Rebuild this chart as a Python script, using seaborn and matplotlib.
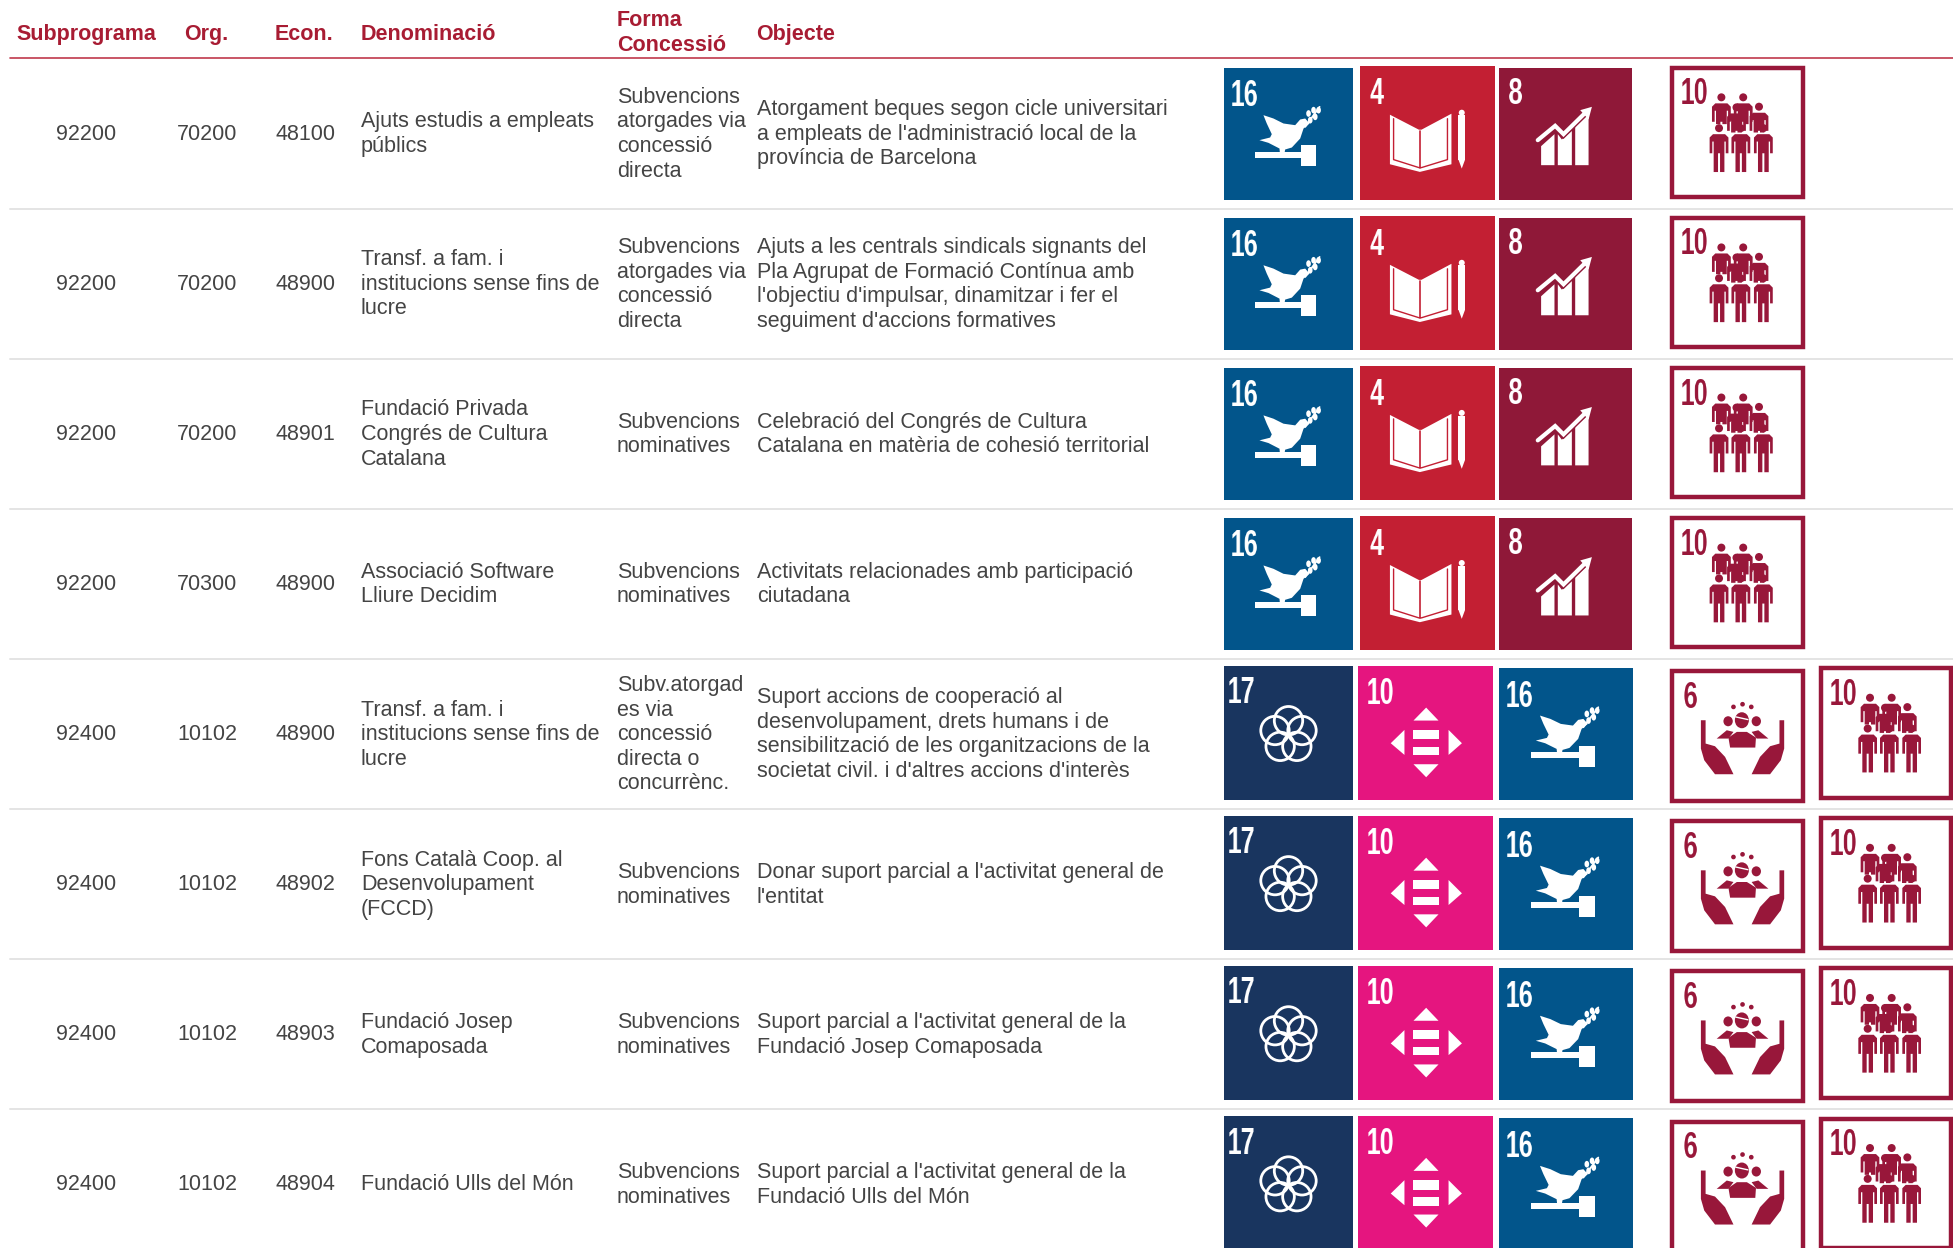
import matplotlib
matplotlib.use("Agg")
import matplotlib.pyplot as plt
import numpy as np
import seaborn as sns
from matplotlib.patches import Circle, Ellipse, Polygon, Rectangle

subprograma = ["92200", "92200", "92200", "92200", "92400", "92400", "92400", "92400"]
org = ["70200", "70200", "70200", "70300", "10102", "10102", "10102", "10102"]
econ = ["48100", "48900", "48901", "48900", "48900", "48902", "48903", "48904"]
denominacio = [
    ["Ajuts estudis a empleats", "públics"],
    ["Transf. a fam. i", "institucions sense fins de", "lucre"],
    ["Fundació Privada", "Congrés de Cultura", "Catalana"],
    ["Associació Software", "Lliure Decidim"],
    ["Transf. a fam. i", "institucions sense fins de", "lucre"],
    ["Fons Català Coop. al", "Desenvolupament", "(FCCD)"],
    ["Fundació Josep", "Comaposada"],
    ["Fundació Ulls del Món"],
]
forma = [
    ["Subvencions", "atorgades via", "concessió", "directa"],
    ["Subvencions", "atorgades via", "concessió", "directa"],
    ["Subvencions", "nominatives"],
    ["Subvencions", "nominatives"],
    ["Subv.atorgad", "es via", "concessió", "directa o", "concurrènc."],
    ["Subvencions", "nominatives"],
    ["Subvencions", "nominatives"],
    ["Subvencions", "nominatives"],
]
objecte = [
    ["Atorgament beques segon cicle universitari", "a empleats de l'administració local de la", "província de Barcelona"],
    ["Ajuts a les centrals sindicals signants del", "Pla Agrupat de Formació Contínua amb", "l'objectiu d'impulsar, dinamitzar i fer el", "seguiment d'accions formatives"],
    ["Celebració del Congrés de Cultura", "Catalana en matèria de cohesió territorial"],
    ["Activitats relacionades amb participació", "ciutadana"],
    ["Suport accions de cooperació al", "desenvolupament, drets humans i de", "sensibilització de les organitzacions de la", "societat civil. i d'altres accions d'interès"],
    ["Donar suport parcial a l'activitat general de", "l'entitat"],
    ["Suport parcial a l'activitat general de la", "Fundació Josep Comaposada"],
    ["Suport parcial a l'activitat general de la", "Fundació Ulls del Món"],
]
icons_a = ["16", "4", "8", "t10"]
icons_b = ["17", "10", "16", "t6", "t10"]
row_icons = [icons_a] * 4 + [icons_b] * 4

# layout, in pixels of the 1953x1248 picture
ROW_TOP = 58.5
ROW_H = 150.1
LINE_H = 24.6
FS = 15.5
TEXT = "#444444"
RED = "#a81c33"
slots_a = [(1224, 1353, 9, 141), (1360, 1495, 7, 141), (1499, 1632, 9, 141), (1670, 1805, 7, 141)]
slots_b = [(1224, 1353, 7, 141), (1358, 1493, 7, 141), (1499, 1633, 9, 141), (1670, 1805, 10, 144), (1819, 1953, 7, 141)]
row_slots = [slots_a] * 4 + [slots_b] * 4

pal = sns.color_palette(["#02558b", "#c31f33", "#8f1838", "#19355f", "#e5157f"])
BLUE, BOOK, WINE, NAVY, PINK = pal
OUTLINE = "#98173a"


def squeeze(img, dpi):
    # the tile numbers are condensed, no narrow font is installed
    h, w = img.shape[:2]
    n = max(1, int(round(w * 0.7)))
    xs = np.linspace(0, w - 1, n)
    i0 = xs.astype(int)
    i1 = np.minimum(i0 + 1, w - 1)
    f = (xs - i0)[None, :, None]
    return img[:, i0] * (1 - f) + img[:, i1] * f, 0, 0


def cell(ax, x, yc, lines, ha="left", **kw):
    for i, line in enumerate(lines):
        y = yc + (i - (len(lines) - 1) / 2) * LINE_H + 7.2
        ax.text(x, y, line, ha=ha, va="baseline", fontsize=FS, color=TEXT, **kw)


def draw_icon(ax, name, x0, x1, y0, y1):
    w = x1 - x0
    h = y1 - y0

    # glyph shapes are given in a 3x grid of the tile: (ox, oy) is the tile corner, (gw, gh) its size
    def grid(ox, oy, gw, gh):
        return lambda gx, gy: (x0 + (gx - ox) / gw * w, y0 + (gy - oy) / gh * h)

    def poly(G, pts, fc="white", zorder=3):
        ax.add_patch(Polygon([G(*p) for p in pts], fc=fc, ec="none", zorder=zorder))

    def box(G, x_a, y_a, x_b, y_b, fc="white", zorder=3):
        poly(G, [(x_a, y_a), (x_b, y_a), (x_b, y_b), (x_a, y_b)], fc, zorder)

    def dot(G, gx, gy, rx, ry, fc="white", zorder=3):
        ax.add_patch(Ellipse(G(gx, gy), 2 * rx / 3, 2 * ry / 3, fc=fc, ec="none", zorder=zorder))

    def number(G, txt, gx, gy, color="white"):
        t = ax.text(*G(gx, gy), txt, fontweight="bold", fontsize=26, color=color,
                    ha="left", va="baseline", zorder=6)
        t.set_agg_filter(squeeze)

    def person(G, cx, head, top, bottom, arm, fc=OUTLINE):
        poly(G, [(cx - 28, top + 10), (cx - 18, top), (cx + 18, top), (cx + 28, top + 10),
                 (cx + 28, arm), (cx + 20, arm), (cx + 20, top + 22), (cx + 16, top + 22), (cx + 16, bottom),
                 (cx + 3, bottom), (cx + 3, arm), (cx - 3, arm), (cx - 3, bottom), (cx - 16, bottom),
                 (cx - 16, top + 22), (cx - 20, top + 22), (cx - 20, arm), (cx - 28, arm)], fc, 4)
        dot(G, cx, head, 12, 12, fc, 5)

    if name == "16":
        ax.add_patch(Rectangle((x0, y0), w, h, fc=BLUE, ec="none"))
        G = grid(12, 22, 386, 396)
        number(G, "16", 28, 138)
        poly(G, [(130, 165), (160, 175), (190, 190), (225, 195), (240, 178), (255, 175), (268, 190), (250, 205),
                 (240, 235), (215, 262), (195, 268), (192, 285), (180, 285), (178, 265), (145, 248), (118, 240),
                 (150, 232), (155, 222), (140, 190)])
        box(G, 105, 275, 245, 293)
        box(G, 243, 255, 288, 318)
        ax.plot(*zip(G(255, 200), G(298, 140)), color="white", lw=1.3, zorder=3)
        for gx, gy in [(265, 160), (280, 150), (285, 170), (270, 180), (295, 150)]:
            dot(G, gx, gy, 7, 10)
    elif name == "4":
        ax.add_patch(Rectangle((x0, y0), w, h, fc=BOOK, ec="none"))
        G = grid(420, 15, 406, 403)
        number(G, "4", 448, 132)
        poly(G, [(510, 163), (597, 208), (605, 208), (695, 160), (695, 312), (600, 335), (510, 312)])
        ax.plot(*zip(G(601, 212), G(601, 322)), color=BOOK, lw=1.2, zorder=4)
        ax.plot(*zip(G(521, 175), G(521, 298), G(597, 322), G(605, 322), G(683, 298), G(683, 175)), color=BOOK, lw=1, zorder=4)
        box(G, 716, 165, 736, 298)
        poly(G, [(716, 298), (736, 298), (726, 325)])
        dot(G, 726, 157, 9, 9)
    elif name == "8":
        ax.add_patch(Rectangle((x0, y0), w, h, fc=WINE, ec="none"))
        G = grid(12, 22, 398, 396)
        number(G, "8", 38, 130)
        poly(G, [(138, 258), (178, 222), (178, 315), (138, 315)])
        poly(G, [(188, 222), (200, 238), (230, 212), (230, 315), (188, 315)])
        poly(G, [(240, 200), (280, 162), (280, 315), (240, 315)])
        line = [G(128, 240), G(180, 197), G(205, 222), G(268, 160)]
        ax.plot(*zip(*line), color=WINE, lw=5, zorder=4, solid_joinstyle="miter")
        ax.plot(*zip(*line), color="white", lw=3, zorder=5, solid_joinstyle="miter")
        poly(G, [(290, 140), (280, 178), (255, 150)], zorder=5)
    elif name == "17":
        ax.add_patch(Rectangle((x0, y0), w, h, fc=NAVY, ec="none"))
        G = grid(12, 18, 386, 402)
        number(G, "17", 20, 130)
        cx, cy = G(205, 225)
        for a in np.deg2rad([-90, -18, 54, 126, 198]):
            ax.add_patch(Circle((cx + 14.2 * np.cos(a), cy + 14.2 * np.sin(a)), 14.2, fc="none", ec="white", lw=2, zorder=3))
    elif name == "10":
        ax.add_patch(Rectangle((x0, y0), w, h, fc=PINK, ec="none"))
        G = grid(414, 18, 404, 402)
        number(G, "10", 438, 132)
        poly(G, [(618, 143), (580, 182), (655, 182)])
        poly(G, [(618, 352), (580, 313), (655, 313)])
        poly(G, [(512, 250), (553, 210), (553, 285)])
        poly(G, [(725, 250), (685, 210), (685, 285)])
        box(G, 578, 210, 657, 238)
        box(G, 578, 260, 657, 286)
    elif name == "t6":
        ax.add_patch(Rectangle((x0 + 2.3, y0 + 2.3), w - 4.6, h - 4.6, fc="white", ec=OUTLINE, lw=3.2, zorder=2))
        G = grid(16, 26, 402, 402)
        number(G, "6", 55, 142, OUTLINE)
        left = [(108, 180), (122, 180), (122, 250), (150, 258), (180, 290), (205, 342), (150, 342), (118, 300), (108, 265)]
        poly(G, left, OUTLINE)
        poly(G, [(464 - a, b) for a, b in left], OUTLINE)
        poly(G, [(195, 262), (190, 232), (215, 215), (245, 215), (272, 232), (270, 262)], OUTLINE)
        arm = [(155, 235), (185, 210), (205, 215), (190, 235)]
        poly(G, arm, OUTLINE)
        poly(G, [(464 - a, b) for a, b in arm], OUTLINE)
        dot(G, 230, 180, 21, 24, OUTLINE)
        ax.plot(*zip(G(212, 170), G(248, 178)), color="white", lw=1, zorder=4)
        dot(G, 189, 183, 14, 15, OUTLINE)
        dot(G, 273, 183, 14, 15, OUTLINE)
        for gx, gy in [(205, 140), (232, 132), (258, 140)]:
            dot(G, gx, gy, 7, 7, OUTLINE)
    elif name == "t10":
        ax.add_patch(Rectangle((x0 + 2.3, y0 + 2.3), w - 4.6, h - 4.6, fc="white", ec=OUTLINE, lw=3.2, zorder=2))
        G = grid(462, 20, 402, 400)
        number(G, "10", 490, 136, OUTLINE)
        for cx, head, top in [(615, 115, 133), (680, 115, 133)]:
            person(G, cx, head, top, 195, 188)
        for cx, head, top in [(660, 145, 163), (727, 143, 161)]:
            person(G, cx, head, top, 220, 215)
        for cx in (608, 673, 740):
            person(G, cx, 207, 225, 338, 282)


def main():
    sns.set_theme(style="white")
    plt.rcParams["font.family"] = ["Liberation Sans", "DejaVu Sans"]
    fig = plt.figure(figsize=(19.53, 12.48), dpi=100)
    ax = fig.add_axes([0, 0, 1, 1])
    ax.set_xlim(0, 1953)
    ax.set_ylim(1248, 0)
    ax.axis("off")
    sns.despine(ax=ax, left=True, bottom=True)

    for x, y, label in [(16.5, 40, "Subprograma"), (184, 40, "Org."), (275, 40, "Econ."), (361, 40, "Denominació"),
                        (617, 26, "Forma"), (617, 51, "Concessió"), (756.5, 40, "Objecte")]:
        ax.text(x, y, label, fontsize=FS, fontweight="bold", color=RED, ha="left", va="baseline")
    ax.plot([10, 1953], [58, 58], color="#c0384c", lw=1.2)

    for i in range(len(subprograma)):
        top = ROW_TOP + i * ROW_H
        yc = top + ROW_H / 2 - 1
        cell(ax, 116.5, yc, [subprograma[i]], ha="right")
        cell(ax, 237, yc, [org[i]], ha="right")
        cell(ax, 335, yc, [econ[i]], ha="right")
        cell(ax, 361, yc, denominacio[i])
        cell(ax, 617, yc, forma[i])
        cell(ax, 757, yc, objecte[i])
        if i < len(subprograma) - 1:
            ax.plot([10, 1953], [top + ROW_H] * 2, color="#e4e4e4", lw=1.4)
        for name, (x0, x1, d0, d1) in zip(row_icons[i], row_slots[i]):
            draw_icon(ax, name, x0, x1, top + d0, top + d1)

    fig.savefig("out.png", dpi=100)
    plt.close()


if __name__ == "__main__":
    main()
